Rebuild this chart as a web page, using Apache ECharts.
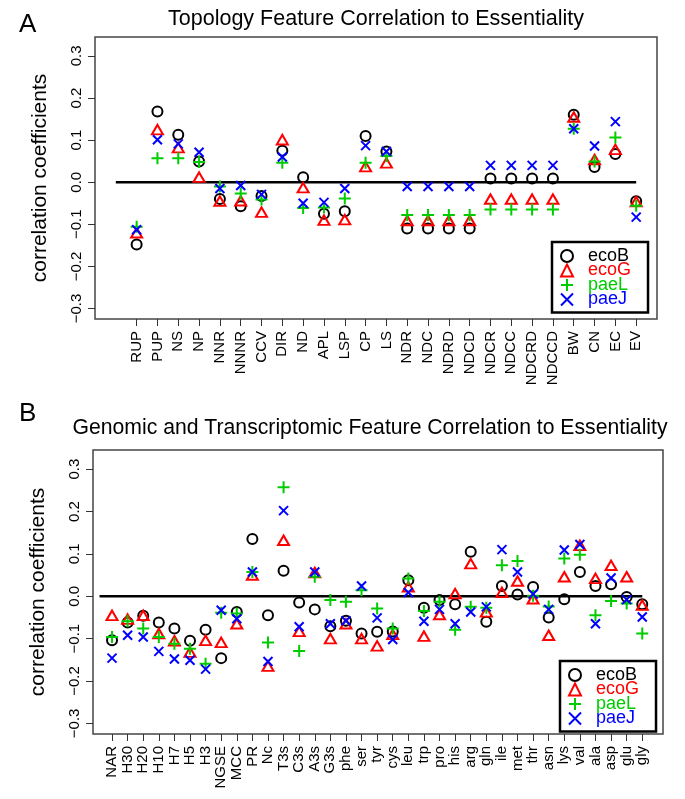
<!DOCTYPE html>
<html>
<head>
<meta charset="utf-8">
<title>Feature correlation to essentiality</title>
<script src="https://cdn.jsdelivr.net/npm/echarts@6/dist/echarts.min.js"></script>
<style>
  html, body { margin: 0; padding: 0; background: #fff; }
  #chart { width: 685px; height: 799px; }
</style>
</head>
<body>
<div id="chart"></div>
<script>
// panel A: topology features
const topoFeatures = ['RUP', 'PUP', 'NS', 'NP', 'NNR', 'NNNR', 'CCV', 'DIR', 'ND', 'APL', 'LSP', 'CP', 'LS',
  'NDR', 'NDC', 'NDRD', 'NDCD', 'NDCR', 'NDCC', 'NDCRD', 'NDCCD', 'BW', 'CN', 'EC', 'EV'];
const topoEcoB = [-0.148, 0.168, 0.113, 0.049, -0.040, -0.057, -0.033, 0.075, 0.012, -0.075, -0.069, 0.110, 0.073,
  -0.110, -0.110, -0.110, -0.110, 0.009, 0.009, 0.009, 0.009, 0.160, 0.036, 0.067, -0.045];
const topoEcoG = [-0.120, 0.125, 0.082, 0.012, -0.045, -0.044, -0.071, 0.101, -0.013, -0.090, -0.089, 0.037, 0.046,
  -0.091, -0.091, -0.091, -0.091, -0.040, -0.040, -0.040, -0.040, 0.155, 0.054, 0.078, -0.046];
const topoPaeL = [-0.106, 0.057, 0.057, 0.048, -0.010, -0.027, -0.041, 0.046, -0.061, -0.060, -0.039, 0.046, 0.062,
  -0.078, -0.078, -0.078, -0.078, -0.065, -0.065, -0.065, -0.065, 0.127, 0.049, 0.106, -0.056];
const topoPaeJ = [-0.113, 0.101, 0.091, 0.071, -0.015, -0.008, -0.029, 0.060, -0.050, -0.048, -0.015, 0.087, 0.073,
  -0.010, -0.010, -0.010, -0.010, 0.040, 0.040, 0.040, 0.040, 0.127, 0.086, 0.144, -0.083];

// panel B: genomic and transcriptomic features
const genoFeatures = ['NAR', 'H30', 'H20', 'H10', 'H7', 'H5', 'H3', 'NGSE', 'MCC', 'PR', 'Nc',
  'T3s', 'C3s', 'A3s', 'G3s', 'phe', 'ser', 'tyr', 'cys', 'leu', 'trp', 'pro', 'his', 'arg', 'gln',
  'ile', 'met', 'thr', 'asn', 'lys', 'val', 'ala', 'asp', 'glu', 'gly'];
const genoEcoB = [-0.104, -0.062, -0.046, -0.062, -0.076, -0.105, -0.079, -0.146, -0.037, 0.135, -0.045,
  0.060, -0.015, -0.031, -0.071, -0.058, -0.088, -0.084, -0.083, 0.038, -0.027, -0.009, -0.019, 0.105, -0.060,
  0.024, 0.004, 0.022, -0.050, -0.007, 0.057, 0.024, 0.028, -0.002, -0.019];
const genoEcoG = [-0.045, -0.054, -0.045, -0.088, -0.105, -0.132, -0.104, -0.109, -0.065, 0.050, -0.165,
  0.132, -0.083, 0.056, -0.100, -0.065, -0.100, -0.117, -0.090, 0.022, -0.094, -0.043, 0.006, 0.077, -0.037,
  0.009, 0.036, -0.006, -0.092, 0.046, 0.120, 0.042, 0.073, 0.046, -0.021];
const genoPaeL = [-0.096, -0.059, -0.076, -0.096, -0.112, -0.124, -0.159, -0.039, -0.041, 0.057, -0.109,
  0.257, -0.129, 0.046, -0.009, -0.013, 0.014, -0.029, -0.076, 0.042, -0.035, -0.013, -0.079, -0.025, -0.027,
  0.073, 0.083, 0.001, -0.024, 0.089, 0.098, -0.045, -0.011, -0.017, -0.088];
const genoPaeJ = [-0.146, -0.092, -0.096, -0.130, -0.148, -0.151, -0.172, -0.033, -0.053, 0.057, -0.154,
  0.202, -0.072, 0.057, -0.065, -0.058, 0.024, -0.051, -0.102, 0.009, -0.059, -0.031, -0.065, -0.037, -0.025,
  0.110, 0.057, 0.005, -0.031, 0.109, 0.122, -0.065, 0.043, -0.008, -0.049];

const yTicks = [-0.3, -0.2, -0.1, 0.0, 0.1, 0.2, 0.3];
const seriesNames = ['ecoB', 'ecoG', 'paeL', 'paeJ'];

const FONT = 'Liberation Sans, Arial, sans-serif';
const markers = {
  ecoB: { symbol: 'circle', size: 10, color: '#000000' },
  ecoG: { symbol: 'triangle', size: [11, 9.5], color: '#ff0000' },
  paeL: { symbol: 'path://M0,6H12M6,0V12', size: 12, color: '#00cd00' },
  paeJ: { symbol: 'path://M0,0L10,10M10,0L0,10', size: 9, color: '#0000ff' }
};

const chart = echarts.init(document.getElementById('chart'));

function points(vals) {
  return vals.map((v, i) => [i + 1, v]);
}

function xAxisFor(gi, names, min, max) {
  const pos = names.map((n, i) => i + 1);
  return {
    gridIndex: gi, type: 'value', min: min, max: max,
    axisLine: { show: false, onZero: false },
    splitLine: { show: false },
    axisTick: { show: true, customValues: pos, length: 7, lineStyle: { color: '#333', width: 1 } },
    axisLabel: {
      customValues: pos, rotate: 90, margin: 12, fontSize: 15, color: '#000', fontFamily: FONT,
      formatter: v => names[Math.round(v) - 1] || ''
    }
  };
}

function yAxisFor(gi) {
  return {
    gridIndex: gi, type: 'value', min: -0.325, max: 0.345,
    name: 'correlation coefficients', nameLocation: 'middle', nameGap: 44,
    nameTextStyle: { fontSize: 21, color: '#000', fontFamily: FONT },
    axisLine: { show: false, onZero: false },
    splitLine: { show: false },
    axisTick: { show: true, customValues: yTicks, length: 7, lineStyle: { color: '#333', width: 1 } },
    axisLabel: {
      customValues: yTicks, rotate: 90, margin: 11, fontSize: 15, color: '#000', fontFamily: FONT,
      formatter: v => (v < 0 ? '\u2212' : '') + Math.abs(v).toFixed(1)
    }
  };
}

function panelSeries(gi, sets, zeroStart, n) {
  const out = [{
    type: 'line', xAxisIndex: gi, yAxisIndex: gi, silent: true, symbol: 'none',
    data: [[zeroStart, 0], [n, 0]],
    lineStyle: { color: '#000', width: 2.5 }, z: 1
  }];
  seriesNames.forEach((name, k) => {
    const m = markers[name];
    out.push({
      name: name, type: 'scatter', xAxisIndex: gi, yAxisIndex: gi,
      symbol: m.symbol, symbolSize: m.size,
      itemStyle: { color: name === 'ecoB' || name === 'ecoG' ? 'rgba(0,0,0,0)' : m.color,
        borderColor: m.color, borderWidth: 2, opacity: 1 },
      data: points(sets[k]), z: 3
    });
  });
  return out;
}

function legendAt(left, top) {
  return {
    left: left, top: top, orient: 'vertical',
    borderColor: '#000', borderWidth: 2.5, padding: [5, 17, 4, 8],
    itemWidth: 12, itemHeight: 12, itemGap: -3.5,
    textStyle: { fontSize: 18, fontFamily: FONT, padding: [0, 0, 0, 10] },
    data: seriesNames.map(n => ({ name: n, textStyle: { color: markers[n].color } }))
  };
}

chart.setOption({
  animation: false,
  textStyle: { fontFamily: FONT },
  title: [
    { text: 'A', left: 14, top: 7, textStyle: { fontSize: 26, fontWeight: 'normal', color: '#000' } },
    { text: 'Topology Feature Correlation to Essentiality', left: 371, top: 3, textAlign: 'center',
      textStyle: { fontSize: 21.5, fontWeight: 'normal', color: '#000' } },
    { text: 'B', left: 14, top: 396, textStyle: { fontSize: 26, fontWeight: 'normal', color: '#000' } },
    { text: 'Genomic and Transcriptomic Feature Correlation to Essentiality', left: 365, top: 413, textAlign: 'center',
      textStyle: { fontSize: 21.2, fontWeight: 'normal', color: '#000' } }
  ],
  legend: [legendAt(552, 242), legendAt(560, 661)],
  grid: [
    { left: 95, top: 37, width: 562, height: 282, show: true, borderColor: '#444', borderWidth: 1.5, backgroundColor: 'transparent' },
    { left: 93, top: 450, width: 570, height: 284, show: true, borderColor: '#444', borderWidth: 1.5, backgroundColor: 'transparent' }
  ],
  xAxis: [
    xAxisFor(0, topoFeatures, -1, topoFeatures.length + 1),
    xAxisFor(1, genoFeatures, -0.22, genoFeatures.length + 1.33)
  ],
  yAxis: [yAxisFor(0), yAxisFor(1)],
  series: [
    ...panelSeries(0, [topoEcoB, topoEcoG, topoPaeL, topoPaeJ], 0, topoFeatures.length),
    ...panelSeries(1, [genoEcoB, genoEcoG, genoPaeL, genoPaeJ], 0.2, genoFeatures.length)
  ]
});
</script>
</body>
</html>
